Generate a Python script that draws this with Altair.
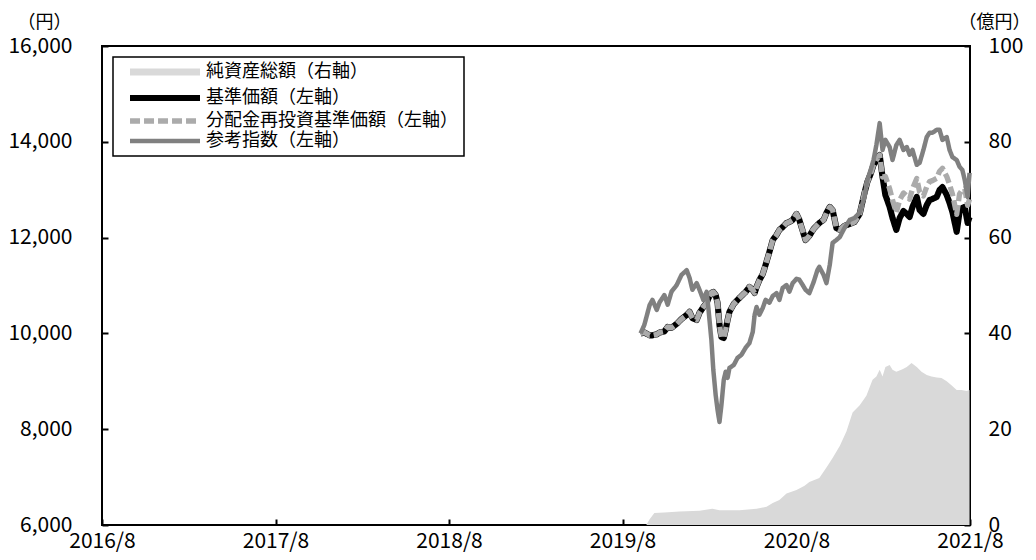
import altair as alt
import pandas as pd

# ---------------- data ----------------
S_NA = "純資産総額（右軸）"
S_NAV = "基準価額（左軸）"
S_RE = "分配金再投資基準価額（左軸）"
S_IDX = "参考指数（左軸）"

series_names = [S_NA, S_NAV, S_RE, S_IDX]
series_colors = ["#d9d9d9", "#000000", "#ababab", "#808080"]
series_dashes = [[1, 0], [1, 0], [10, 4], [1, 0]]
series_widths = [7, 4.5, 3, 3.5]

line_dates = [
    "2019/09/08", "2019/09/16", "2019/09/27", "2019/10/03", "2019/10/12",
    "2019/10/18", "2019/10/28", "2019/11/04", "2019/11/12", "2019/11/23",
    "2019/12/03", "2019/12/14", "2019/12/20", "2019/12/26", "2020/01/04",
    "2020/01/10", "2020/01/18", "2020/01/25", "2020/01/29", "2020/02/04",
    "2020/02/08", "2020/02/13", "2020/02/17", "2020/02/21", "2020/02/25",
    "2020/03/01", "2020/03/05", "2020/03/09", "2020/03/13", "2020/03/22",
    "2020/03/30", "2020/04/07", "2020/04/16", "2020/04/24", "2020/05/01",
    "2020/05/05", "2020/05/09", "2020/05/15", "2020/05/22", "2020/05/28",
    "2020/06/05", "2020/06/12", "2020/06/20", "2020/06/26", "2020/07/03",
    "2020/07/11", "2020/07/17", "2020/07/24", "2020/08/01", "2020/08/07",
    "2020/08/14", "2020/08/20", "2020/08/28", "2020/09/06", "2020/09/14",
    "2020/09/18", "2020/09/27", "2020/10/03", "2020/10/10", "2020/10/16",
    "2020/10/24", "2020/10/31", "2020/11/10", "2020/11/21", "2020/12/01",
    "2020/12/12", "2020/12/22", "2020/12/28", "2021/01/04", "2021/01/10",
    "2021/01/16", "2021/01/23", "2021/01/29", "2021/02/04", "2021/02/13",
    "2021/02/19", "2021/02/27", "2021/03/06", "2021/03/14", "2021/03/21",
    "2021/03/27", "2021/04/02", "2021/04/11", "2021/04/17", "2021/04/25",
    "2021/05/02", "2021/05/08", "2021/05/14", "2021/05/23", "2021/05/29",
    "2021/06/04", "2021/06/13", "2021/06/19", "2021/06/25", "2021/07/04",
    "2021/07/10", "2021/07/16", "2021/07/21", "2021/07/27", "2021/07/31",
]

nav_values = [
    10000, 10020, 9960, 9960, 9980, 10020, 10040, 10135, 10115, 10200,
    10300, 10385, 10450, 10320, 10280, 10430, 10550, 10635, 10740, 10845,
    10865, 10800, 10635, 10175, 9925, 9905, 10070, 10280, 10450, 10615,
    10700, 10780, 10865, 10970, 10905, 10845, 10970, 11115, 11240, 11430,
    11700, 11950, 12055, 12160, 12220, 12305, 12325, 12370, 12495, 12370,
    12140, 11950, 12035, 12180, 12265, 12305, 12370, 12515, 12640, 12575,
    12200, 12160, 12245, 12285, 12325, 12495, 12930, 13160, 13330, 13515,
    13620, 13725, 13265, 12890, 12640, 12410, 12160, 12410, 12555, 12495,
    12430, 12640, 12850, 12575, 12495, 12680, 12785, 12805, 12850, 12995,
    13055, 12890, 12725, 12535, 12120, 12535, 12620, 12640, 12305, 12430,
]

reinv_values = [
    10000, 10020, 9960, 9960, 9980, 10020, 10040, 10135, 10115, 10200,
    10300, 10385, 10450, 10320, 10280, 10430, 10550, 10635, 10740, 10845,
    10865, 10800, 10635, 10175, 9925, 9905, 10070, 10280, 10450, 10615,
    10700, 10780, 10865, 10970, 10905, 10845, 10970, 11115, 11240, 11430,
    11700, 11950, 12055, 12160, 12220, 12305, 12325, 12370, 12495, 12370,
    12140, 11950, 12035, 12180, 12265, 12305, 12370, 12515, 12640, 12575,
    12200, 12160, 12245, 12285, 12325, 12495, 12930, 13160, 13330, 13515,
    13620, 13725, 13265, 13277, 13019, 12782, 12525, 12782, 12932, 12870,
    12803, 13019, 13236, 12952, 12870, 13060, 13169, 13189, 13236, 13385,
    13447, 13277, 13107, 12911, 12484, 12911, 12999, 13019, 12674, 12803,
]

idx_values = [
    10000, 10180, 10590, 10700, 10490, 10650, 10800, 10600, 10870, 11010,
    11220, 11320, 11160, 10910, 11050, 10910, 10700, 10870, 10490, 9860,
    9240, 8710, 8400, 8150, 8500, 9030, 9200, 9070, 9280, 9340,
    9490, 9550, 9700, 9800, 10030, 10390, 10550, 10390, 10530, 10700,
    10640, 10780, 10840, 10700, 10950, 11010, 10870, 11050, 11140, 11120,
    11010, 10910, 10840, 11070, 11320, 11390, 11220, 11050, 11430, 11890,
    11950, 12010, 12200, 12370, 12410, 12520, 12850, 13200, 13410, 13620,
    13930, 14390, 13830, 14040, 13890, 13620, 13930, 14040, 13830, 13890,
    13730, 13830, 13520, 13560, 13830, 14100, 14190, 14190, 14250, 14250,
    14040, 14100, 13830, 13680, 13620, 13480, 13410, 13200, 12850, 13350,
]

na_dates = [
    "2019/09/20", "2019/09/27", "2019/10/07", "2019/10/28", "2019/11/29",
    "2020/01/10", "2020/02/06", "2020/02/21", "2020/04/03", "2020/05/09",
    "2020/05/30", "2020/06/12", "2020/06/26", "2020/07/11", "2020/08/01",
    "2020/08/18", "2020/08/28", "2020/09/18", "2020/10/03", "2020/10/16",
    "2020/10/31", "2020/11/14", "2020/11/27", "2020/12/12", "2020/12/26",
    "2021/01/08", "2021/01/16", "2021/01/23", "2021/01/29", "2021/02/04",
    "2021/02/13", "2021/02/19", "2021/02/27", "2021/03/12", "2021/03/21",
    "2021/03/31", "2021/04/11", "2021/04/21", "2021/05/02", "2021/05/12",
    "2021/05/23", "2021/06/02", "2021/06/13", "2021/06/23", "2021/07/04",
    "2021/07/14", "2021/07/25", "2021/07/31",
]
na_values = [
    0, 1.2, 2.5, 2.6, 2.8,
    3.0, 3.4, 3.1, 3.1, 3.4,
    3.8, 4.6, 5.2, 6.6, 7.3,
    8.2, 9.0, 9.8, 12.0, 14.0,
    16.5, 19.5, 23.5, 25.0, 27.0,
    30.3, 31.0, 32.4, 31.0, 33.0,
    33.4, 32.4, 32.0, 32.5, 33.0,
    33.8, 33.0, 32.0, 31.3, 31.0,
    30.8, 30.7, 30.0, 29.2, 28.2,
    28.2, 28.0, 28.2,
]

left_ticks = [6000, 8000, 10000, 12000, 14000, 16000]
right_ticks = [0, 20, 40, 60, 80, 100]
x_tick_years = [2016, 2017, 2018, 2019, 2020, 2021]

# ---------------- chart ----------------
n = len(line_dates)
line_df = pd.DataFrame({
    "date": line_dates * 3,
    "value": nav_values + reinv_values + idx_values,
    "series": [S_NAV] * n + [S_RE] * n + [S_IDX] * n,
})
na_df = pd.DataFrame({"date": na_dates, "value": na_values})

NUMFONT = "Noto Sans CJK JP"
JPFONT = "Noto Sans CJK JP"

x_enc = alt.X(
    "date:T",
    title=None,
    scale=alt.Scale(
        domain=[alt.DateTime(year=2016, month=8, date=1), alt.DateTime(year=2021, month=8, date=1)],
        nice=False,
    ),
    axis=alt.Axis(
        values=[alt.DateTime(year=y, month=8, date=1) for y in x_tick_years],
        format="%Y/%-m",
        offset=-6,
        domain=False,
        grid=False,
        ticks=True,
        tickSize=6,
        tickWidth=2,
        tickColor="black",
        labelPadding=5,
        labelFont=NUMFONT,
        labelFontSize=21,
        labelColor="black",
        labelFlush=False,
        labelOverlap=False,
        labelBound=False,
    ),
)

area = alt.Chart(na_df).mark_area(color="#d9d9d9").encode(
    x=x_enc,
    y=alt.Y(
        "value:Q",
        title="（億円）",
        scale=alt.Scale(domain=[0, 100], nice=False),
        axis=alt.Axis(
            orient="right",
            values=right_ticks,
            offset=-6,
            domain=False,
            grid=False,
            tickSize=6,
            tickWidth=2,
            tickColor="black",
            labelPadding=18,
            labelFont=NUMFONT,
            labelFontSize=21,
            labelColor="black",
            titleAngle=0,
            titleX=30,
            titleY=-24,
            titleAlign="center",
            titleBaseline="middle",
            titleFont=JPFONT,
            titleFontSize=18,
            titleFontWeight="normal",
            titleColor="black",
        ),
    ),
)

y_left = alt.Y(
    "value:Q",
    title="（円）",
    scale=alt.Scale(domain=[6000, 16000], nice=False),
    axis=alt.Axis(
        orient="left",
        values=left_ticks,
        labelExpr="format(datum.value, ',')",
        offset=-6,
        domain=False,
        grid=False,
        tickSize=6,
        tickWidth=2,
        tickColor="black",
        labelPadding=30,
        labelFont=NUMFONT,
        labelFontSize=21,
        labelColor="black",
        titleAngle=0,
        titleX=-64,
        titleY=-24,
        titleAlign="center",
        titleBaseline="middle",
        titleFont=JPFONT,
        titleFontSize=18,
        titleFontWeight="normal",
        titleColor="black",
    ),
)

legend = alt.Legend(
    title=None,
    orient="none",
    legendX=11,
    legendY=11,
    symbolType="M-6.36,0H6.36",
    symbolSize=121,
    symbolOffset=37,
    labelOffset=32,
    labelFont=JPFONT,
    labelFontSize=18,
    labelColor="black",
    labelLimit=500,
    rowPadding=-1,
    padding=6,
    strokeColor="black",
    fillColor="white",
)

color_scale = alt.Scale(domain=series_names, range=series_colors)
dash_scale = alt.Scale(domain=series_names, range=series_dashes)
width_scale = alt.Scale(domain=series_names, range=series_widths)


def line_layer(name):
    return (
        alt.Chart(line_df)
        .transform_filter(alt.datum.series == name)
        .mark_line(strokeJoin="round", strokeCap="butt")
        .encode(
            x=x_enc,
            y=y_left,
            color=alt.Color("series:N", scale=color_scale, legend=legend),
            strokeDash=alt.StrokeDash("series:N", scale=dash_scale, legend=legend),
            strokeWidth=alt.StrokeWidth("series:N", scale=width_scale, legend=legend),
        )
    )


lines = alt.layer(line_layer(S_NAV), line_layer(S_RE), line_layer(S_IDX))

chart = (
    alt.layer(area, lines)
    .resolve_scale(y="independent")
    .properties(
        width=868,
        height=479,
        autosize=alt.AutoSizeParams(type="none"),
        padding={"left": 94, "top": 38, "right": 58, "bottom": 27},
        background="white",
    )
    .configure_view(stroke="black", strokeWidth=2)
    .configure_legend(strokeWidth=1.5)
)

chart.save("out.html", embed_options={"renderer": "svg", "actions": False})
